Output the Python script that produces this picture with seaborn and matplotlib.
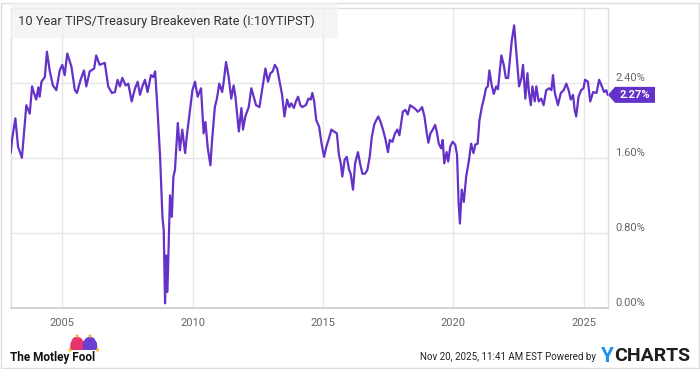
import numpy as np
import pandas as pd
import matplotlib
matplotlib.use("Agg")
import matplotlib.pyplot as plt
import seaborn as sns
from matplotlib.patches import Polygon, Rectangle, Circle

# ---------------- data ----------------
years = [2003.02, 2003.08, 2003.20, 2003.30, 2003.45, 2003.56, 2003.62, 2003.75, 2003.84, 2003.90,
         2004.00, 2004.08, 2004.13, 2004.20, 2004.33, 2004.41, 2004.52, 2004.64, 2004.77, 2004.90,
         2005.00, 2005.09, 2005.19, 2005.35, 2005.48, 2005.56, 2005.70, 2005.83, 2005.92, 2006.05,
         2006.22, 2006.30, 2006.43, 2006.63, 2006.76, 2006.90, 2007.02, 2007.12, 2007.21, 2007.30,
         2007.43, 2007.53, 2007.66, 2007.79, 2007.89, 2007.98, 2008.07, 2008.17, 2008.27, 2008.40,
         2008.49, 2008.56, 2008.66, 2008.75, 2008.84, 2008.89, 2008.94, 2008.98, 2009.03, 2009.13,
         2009.20, 2009.26, 2009.32, 2009.43, 2009.51, 2009.60, 2009.71, 2009.77, 2009.90, 2009.99,
         2010.09, 2010.19, 2010.32, 2010.42, 2010.49, 2010.58, 2010.68, 2010.74, 2010.85, 2010.93,
         2011.02, 2011.13, 2011.19, 2011.28, 2011.38, 2011.48, 2011.57, 2011.64, 2011.77, 2011.87,
         2011.93, 2012.02, 2012.15, 2012.25, 2012.34, 2012.43, 2012.56, 2012.66, 2012.79, 2012.89,
         2012.98, 2013.07, 2013.15, 2013.24, 2013.32, 2013.43, 2013.52, 2013.62, 2013.71, 2013.78,
         2013.88, 2013.96, 2014.04, 2014.13, 2014.20, 2014.34, 2014.44, 2014.53, 2014.59, 2014.66,
         2014.74, 2014.85, 2014.95, 2015.04, 2015.13, 2015.23, 2015.32, 2015.42, 2015.53, 2015.61,
         2015.68, 2015.74, 2015.83, 2015.91, 2016.00, 2016.06, 2016.15, 2016.23, 2016.34, 2016.42,
         2016.51, 2016.61, 2016.70, 2016.79, 2016.87, 2016.96, 2017.04, 2017.12, 2017.21, 2017.30,
         2017.40, 2017.49, 2017.56, 2017.66, 2017.76, 2017.85, 2017.93, 2018.06, 2018.16, 2018.25,
         2018.34, 2018.44, 2018.54, 2018.63, 2018.72, 2018.80, 2018.89, 2018.98, 2019.04, 2019.12,
         2019.21, 2019.30, 2019.36, 2019.44, 2019.53, 2019.59, 2019.65, 2019.74, 2019.80, 2019.88,
         2019.97, 2020.07, 2020.14, 2020.20, 2020.25, 2020.32, 2020.40, 2020.49, 2020.59, 2020.68,
         2020.77, 2020.84, 2020.93, 2021.00, 2021.09, 2021.17, 2021.25, 2021.32, 2021.38, 2021.47,
         2021.55, 2021.64, 2021.71, 2021.84, 2021.93, 2022.01, 2022.10, 2022.18, 2022.24, 2022.33,
         2022.38, 2022.44, 2022.52, 2022.61, 2022.67, 2022.76, 2022.84, 2022.90, 2022.97, 2023.03,
         2023.12, 2023.18, 2023.27, 2023.37, 2023.46, 2023.56, 2023.67, 2023.76, 2023.82, 2023.89,
         2024.01, 2024.12, 2024.23, 2024.33, 2024.42, 2024.50, 2024.59, 2024.65, 2024.71, 2024.80,
         2024.90, 2024.99, 2025.05, 2025.16, 2025.25, 2025.36, 2025.49, 2025.59, 2025.68, 2025.78,
         2025.86, 2025.92]
rates = [1.65, 1.81, 2.02, 1.72, 1.60, 1.97, 2.16, 2.07, 2.36, 2.30,
         2.22, 2.35, 2.25, 2.41, 2.46, 2.73, 2.52, 2.37, 2.32, 2.53,
         2.59, 2.48, 2.71, 2.57, 2.32, 2.29, 2.43, 2.53, 2.36, 2.52,
         2.55, 2.69, 2.59, 2.61, 2.36, 2.29, 2.30, 2.43, 2.36, 2.45,
         2.37, 2.39, 2.20, 2.34, 2.41, 2.27, 2.36, 2.43, 2.30, 2.48,
         2.46, 2.52, 2.07, 1.61, 0.97, 0.83, 0.05, 0.56, 0.17, 1.20,
         0.97, 1.40, 1.47, 1.97, 1.68, 1.90, 1.65, 1.82, 2.11, 2.32,
         2.41, 2.25, 2.34, 1.86, 1.98, 1.70, 1.52, 1.77, 2.14, 2.23,
         2.39, 2.30, 2.41, 2.62, 2.46, 2.23, 2.37, 2.25, 1.88, 2.13,
         1.90, 2.04, 2.14, 2.34, 2.25, 2.16, 2.14, 2.32, 2.55, 2.41,
         2.50, 2.52, 2.59, 2.55, 2.43, 2.27, 2.04, 2.22, 2.14, 2.18,
         2.13, 2.20, 2.25, 2.16, 2.14, 2.16, 2.23, 2.22, 2.29, 2.20,
         2.00, 1.93, 1.74, 1.61, 1.72, 1.81, 1.90, 1.88, 1.86, 1.63,
         1.54, 1.40, 1.58, 1.61, 1.47, 1.43, 1.26, 1.54, 1.66, 1.54,
         1.43, 1.43, 1.47, 1.61, 1.82, 1.95, 2.00, 2.04, 1.98, 1.90,
         1.79, 1.66, 1.79, 1.77, 1.86, 1.90, 1.84, 2.09, 2.11, 2.06,
         2.16, 2.14, 2.12, 2.09, 2.11, 2.14, 2.04, 1.86, 1.76, 1.86,
         1.90, 1.95, 1.88, 1.75, 1.70, 1.79, 1.54, 1.66, 1.56, 1.72,
         1.77, 1.74, 1.63, 1.12, 0.90, 1.26, 1.13, 1.40, 1.56, 1.75,
         1.65, 1.74, 1.75, 2.00, 2.14, 2.23, 2.34, 2.36, 2.53, 2.37,
         2.28, 2.36, 2.33, 2.69, 2.59, 2.45, 2.45, 2.68, 2.85, 3.01,
         2.84, 2.64, 2.36, 2.45, 2.59, 2.23, 2.50, 2.29, 2.16, 2.36,
         2.20, 2.36, 2.20, 2.23, 2.16, 2.32, 2.34, 2.32, 2.48, 2.29,
         2.16, 2.29, 2.32, 2.39, 2.32, 2.22, 2.27, 2.11, 2.04, 2.25,
         2.32, 2.34, 2.43, 2.41, 2.20, 2.30, 2.29, 2.43, 2.37, 2.30,
         2.32, 2.27]
x_ticks = [2005, 2010, 2015, 2020, 2025]
y_ticks = [0.0, 0.8, 1.6, 2.4]
title = "10 Year TIPS/Treasury Breakeven Rate (I:10YTIPST)"
stamp = "Nov 20, 2025, 11:41 AM EST Powered by"
brand_left = "The Motley Fool"

LINE = "#6432c8"
GRID = "#e6e6e6"

sns.set_theme(style="white")
plt.rcParams["font.family"] = ["Roboto", "DejaVu Sans"]

W, H = 700, 369
fig = plt.figure(figsize=(7.0, 3.69), dpi=100)
fig.patch.set_facecolor("white")

L, R, B, T = 10.7, 608, 308, 8
ax = fig.add_axes([L / W, 1 - B / H, (R - L) / W, (B - T) / H])
ax.set_facecolor("white")

df = pd.DataFrame({"year": years, "rate": rates})
sns.lineplot(data=df, x="year", y="rate", ax=ax, color=LINE, linewidth=1.6,
             zorder=5, estimator=None, sort=False)

ax.set_xlim(2003.02, 2025.93)
ax.set_ylim(0, 3.195)
ax.set_xlabel("")
ax.set_ylabel("")

ax.set_xticks(x_ticks)
ax.set_xticklabels([str(t) for t in x_ticks])
ax.set_yticks(y_ticks)
ax.set_yticklabels([f"{t:.2f}%" for t in y_ticks])
ax.yaxis.tick_right()
ax.tick_params(axis="both", length=0, labelsize=8, labelcolor="#666666")
ax.tick_params(axis="y", pad=5)
ax.tick_params(axis="x", pad=7)
for lab in ax.get_yticklabels():
    lab.set_va("bottom")

ax.grid(True, color=GRID, linewidth=1.0)
ax.set_axisbelow(True)
for s in ["left", "right", "top"]:
    ax.spines[s].set_color("#dddddd")
    ax.spines[s].set_linewidth(1.0)
ax.spines["bottom"].set_color("#cccccc")
ax.spines["bottom"].set_linewidth(1.2)

# title box (semi-transparent, gridlines show through)
fig.patches.append(Rectangle((L, H - 38), 338 - L, 35, transform=None,
                             facecolor="#f2f2f2", alpha=0.75, edgecolor="none", zorder=3))
fig.text(18 / W, 1 - 21 / H, title, fontsize=9.3, color="#333333",
         va="center", ha="left", zorder=4)

# end-of-line value tag, positioned from the last data point
fig.canvas.draw()
xd, yd = ax.transData.transform((years[-1], rates[-1]))
x0 = ax.transAxes.transform((1, 0))[0]
h2 = 8
tag = Polygon([(x0, yd), (x0 + 7, yd + h2), (x0 + 47, yd + h2), (x0 + 47, yd - h2), (x0 + 7, yd - h2)],
              closed=True, transform=None, facecolor=LINE, edgecolor="none", zorder=6, clip_on=False)
fig.patches.append(tag)
fig.text((x0 + 27) / W, yd / H, f"{rates[-1]:.2f}%", color="white", fontsize=8,
         fontweight="bold", ha="center", va="center", zorder=7)

# footer
fig.text(10 / W, 1 - 358 / H, brand_left, fontsize=8.5, fontweight="bold",
         color="#111111", ha="left", va="center")
# jester hat
pink = [(70, 350), (70.5, 343), (73, 338), (77, 336.5), (81, 338), (84, 342), (84, 350)]
purple = [(83, 350), (83, 342), (86, 338), (90, 336.5), (94, 338), (97, 343), (97.5, 350)]
fig.patches.append(Polygon([(x, H - y) for x, y in pink], closed=True, transform=None,
                           facecolor="#e8336d", edgecolor="none"))
fig.patches.append(Polygon([(x, H - y) for x, y in purple], closed=True, transform=None,
                           facecolor="#6b3fd1", edgecolor="none"))
for cx, cy in [(70, 350), (77, 336), (90, 336), (97.5, 350)]:
    fig.patches.append(Circle((cx, H - cy), 1.6, transform=None, facecolor="#f5b82e", edgecolor="none"))

fig.text(596 / W, 1 - 357 / H, stamp, fontsize=7, color="#222222", ha="right", va="center")
fig.text(600 / W, 1 - 356 / H, "Y", fontsize=15, fontweight="bold", color="#1f8ef1",
         ha="left", va="center")
fig.text(614 / W, 1 - 356 / H, "CHARTS", fontsize=14, fontweight="bold", color="#1e1e1e",
         ha="left", va="center")

# outer frame
fig.patches.append(Rectangle((1, 1), W - 2, H - 4, transform=None, facecolor="none",
                             edgecolor="#dddddd", linewidth=1.0))

fig.savefig("out.png", dpi=100)
